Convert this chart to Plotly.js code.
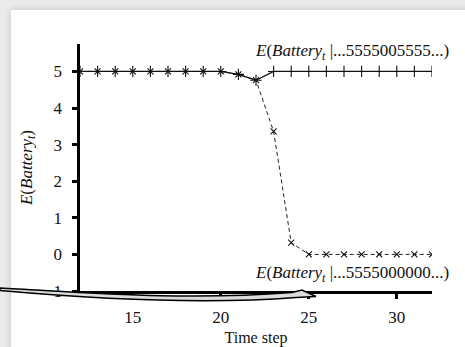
<!DOCTYPE html>
<html>
<head>
<meta charset="utf-8">
<script src="https://cdn.plot.ly/plotly-3.0.1.min.js"></script>
<style>
html,body{margin:0;padding:0;width:465px;height:347px;overflow:hidden;background:#ebebeb;}
#card{position:absolute;left:11px;top:10px;width:460px;height:345px;background:#fff;box-shadow:0 0 7px rgba(0,0,0,0.18);}
#chart{position:absolute;left:0;top:0;width:465px;height:347px;}
</style>
</head>
<body>
<div id="card"></div>
<div id="chart"></div>
<script>
// Time steps
const timeSteps = [12,13,14,15,16,17,18,19,20,21,22,23,24,25,26,27,28,29,30,31,32];
// Series A: observations ...5555005555...
const seriesA = [5,5,5,5,5,5,5,5,5,4.92,4.76,5,5,5,5,5,5,5,5,5,5];
// Series B: observations ...5555000000...
const seriesB = [5,5,5,5,5,5,5,5,5,4.92,4.76,3.36,0.32,0,0,0,0,0,0,0,0];
const xTicks = [15,20,25,30];
const yTicks = [-1,0,1,2,3,4,5];
const labelA = '<i>E</i>(<i>Battery<sub>t</sub></i> |...5555005555...)';
const labelB = '<i>E</i>(<i>Battery<sub>t</sub></i> |...5555000000...)';
const yTitle = '<i>E</i>(<i>Battery<sub>t</sub></i>)';
const xTitle = 'Time step';

const L=80, R=33, T=44, B=56, W=465, H=347;
const pw=W-L-R, ph=H-T-B;
const px = X => ((X-L)/pw).toFixed(4);
const py = Y => (1-(Y-T)/ph).toFixed(4);
function pathFromPx(cmds){
  return cmds.map(c=>{
    if(c[0]==='Z') return 'Z';
    const parts=[c[0]];
    for(let i=1;i<c.length;i+=2){parts.push(px(c[i])+','+py(c[i+1]));}
    return parts.join(' ');
  }).join(' ');
}
const arrowPath = pathFromPx([
  ['M',0,288],
  ['C',80,292,180,301,292,292.5],
  ['L',302,290],
  ['L',316,296.5],
  ['L',296,297.5],
  ['C',200,305,90,298.5,0,290.5],
  ['Z']
]);

const FAM = 'Liberation Serif';
const font = {family:FAM, color:'#111', size:16};
const serifTick = v => '<span style="font-family:Liberation Serif">' + String(v) + '</span>';

const traces = [
  {x:timeSteps, y:seriesB, mode:'lines+markers', type:'scatter',
   line:{color:'#222', width:1, dash:'4px,3px'},
   marker:{symbol:'x-thin', size:6, line:{color:'#111', width:1.1}}},
  {x:timeSteps, y:seriesA, mode:'lines+markers', type:'scatter',
   line:{color:'#111', width:1.3},
   marker:{symbol:'cross-thin', size:8, line:{color:'#111', width:1.1}}}
];

const layout = {
  width:W, height:H,
  margin:{l:L, r:R, t:T, b:B, pad:0},
  paper_bgcolor:'rgba(0,0,0,0)', plot_bgcolor:'rgba(0,0,0,0)',
  showlegend:false,
  font:font,
  xaxis:{range:[12,32], tickmode:'array', tickvals:xTicks, ticktext:xTicks.map(serifTick),
    showgrid:false, zeroline:false, showline:true, linecolor:'#000', linewidth:3,
    ticks:'outside', ticklen:5, tickwidth:3, tickcolor:'#000', ticklabelstandoff:4,
    tickfont:{family:FAM, size:17, color:'#111'},
    title:{text:xTitle, font:{family:FAM, size:16, color:'#111'}, standoff:17}},
  yaxis:{range:[-1,5.75], tickmode:'array', tickvals:yTicks, ticktext:yTicks.map(serifTick),
    showgrid:false, zeroline:false, showline:true, linecolor:'#000', linewidth:3.5,
    ticks:'outside', ticklen:5, tickwidth:3, tickcolor:'#000', ticklabelstandoff:6,
    tickfont:{family:FAM, size:17, color:'#111'},
    title:{text:yTitle, font:{family:FAM, size:17, color:'#111'}, standoff:12}},
  annotations:[
    {text:labelA, xref:'paper', yref:'y', x:1.055, y:5.52, xanchor:'right', yanchor:'middle',
     showarrow:false, font:{family:FAM, size:17, color:'#111'}},
    {text:labelB, xref:'paper', yref:'y', x:1.055, y:-0.53, xanchor:'right', yanchor:'middle',
     showarrow:false, font:{family:FAM, size:17, color:'#111'}}
  ],
  shapes:[
    {type:'path', xref:'paper', yref:'paper', path:arrowPath,
     fillcolor:'#dcdcdc', line:{color:'#000', width:1.5}, layer:'above'}
  ]
};

Plotly.newPlot('chart', traces, layout, {displayModeBar:false, staticPlot:true});
</script>
</body>
</html>
